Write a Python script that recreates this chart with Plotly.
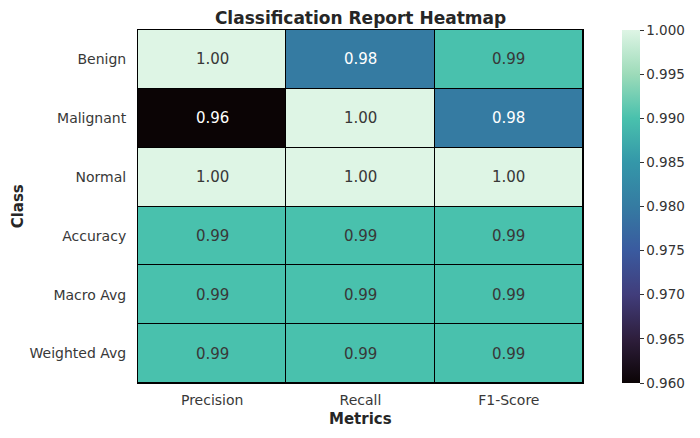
import plotly.graph_objects as go

classes = ['Benign', 'Malignant', 'Normal', 'Accuracy', 'Macro Avg', 'Weighted Avg']
metrics = ['Precision', 'Recall', 'F1-Score']

precision = [1.00, 0.96, 1.00, 0.99, 0.99, 0.99]
recall = [0.98, 1.00, 1.00, 0.99, 0.99, 0.99]
f1_score = [0.99, 0.98, 1.00, 0.99, 0.99, 0.99]

cbar_ticks = [0.960, 0.965, 0.970, 0.975, 0.980, 0.985, 0.990, 0.995, 1.000]

# approximate seaborn "mako" colormap
mako = [
    [0.0, '#0b0405'],
    [0.125, '#2e1e3c'],
    [0.25, '#413d7b'],
    [0.375, '#3a5a9f'],
    [0.5, '#357ba2'],
    [0.625, '#3497a9'],
    [0.75, '#49c1ad'],
    [0.875, '#9ddbb9'],
    [1.0, '#def5e5'],
]

z = [[precision[i], recall[i], f1_score[i]] for i in range(len(classes))]
zmin = min(min(r) for r in z)
zmax = max(max(r) for r in z)

fig = go.Figure()

fig.add_trace(go.Heatmap(
    z=z,
    x=metrics,
    y=classes,
    colorscale=mako,
    zmin=zmin,
    zmax=zmax,
    xgap=1,
    ygap=1,
    showscale=True,
    colorbar=dict(
        x=1.0876, xanchor='left', xpad=0,
        y=0.5, yanchor='middle', ypad=0,
        len=1.0, lenmode='fraction',
        thickness=18,
        outlinewidth=0,
        tickvals=cbar_ticks,
        tickformat='.3f',
        ticks='outside', ticklen=4, tickcolor='#333333',
        tickfont=dict(size=13.5, color='#333333'),
    ),
    hovertemplate='%{y} / %{x}: %{z:.2f}<extra></extra>',
))

# value labels, light text on dark cells (like seaborn annot)
for i, c in enumerate(classes):
    for j, m in enumerate(metrics):
        v = z[i][j]
        frac = (v - zmin) / (zmax - zmin)
        fig.add_annotation(
            x=m, y=c, text=f'{v:.2f}', showarrow=False,
            font=dict(size=15, color='white' if frac < 0.6 else '#383838'),
        )

fig.add_annotation(
    text='<b>Class</b>', xref='paper', yref='paper', x=-0.27, y=0.5,
    xanchor='center', yanchor='middle',
    textangle=-90, showarrow=False, font=dict(size=15, color='#262626'),
)
fig.add_annotation(
    text='<b>Metrics</b>', xref='paper', yref='paper', x=0.5, y=-0.102,
    xanchor='center', yanchor='middle', showarrow=False,
    font=dict(size=15, color='#262626'),
)

fig.update_layout(
    title=dict(
        text='<b>Classification Report Heatmap</b>',
        x=0.5, xref='paper', xanchor='center',
        y=0.958, yref='container', yanchor='middle',
        font=dict(size=17, color='#262626'),
    ),
    xaxis=dict(
        showgrid=False, zeroline=False, ticks='',
        showline=True, linecolor='black', linewidth=1, mirror=True,
        tickfont=dict(size=14, color='#383838'),
        ticklabelstandoff=4,
    ),
    yaxis=dict(
        showgrid=False, zeroline=False, ticks='',
        autorange='reversed',
        showline=True, linecolor='black', linewidth=1, mirror=True,
        tickfont=dict(size=14, color='#383838'),
        ticklabelstandoff=8,
    ),
    plot_bgcolor='black',
    paper_bgcolor='white',
    width=700,
    height=438,
    margin=dict(l=138, r=117, t=30, b=55),
    font=dict(family='DejaVu Sans, sans-serif', size=13, color='#383838'),
)

# drop the default page margin so the figure sits at the window's top-left
fig.write_html('out.html', config={'displayModeBar': False},
               post_script="document.body.style.margin='0';")
